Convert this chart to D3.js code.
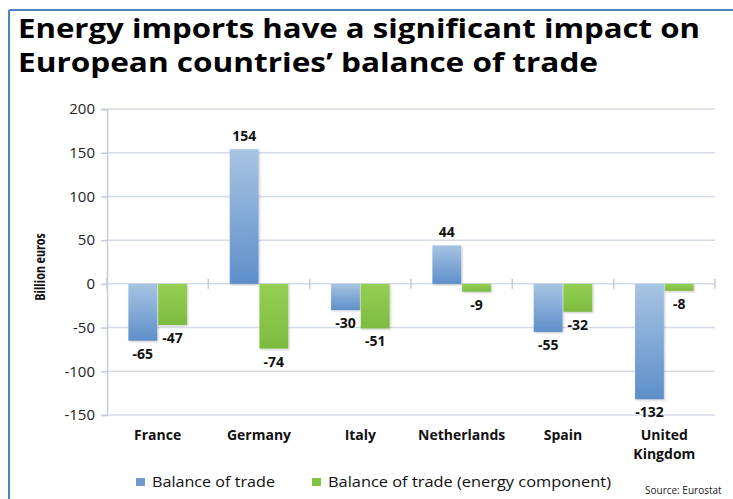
<!DOCTYPE html>
<html>
<head>
<meta charset="utf-8">
<script src="https://cdn.jsdelivr.net/npm/d3@7"></script>
<style>
  html, body { margin: 0; padding: 0; background: #fff; }
  svg { display: block; }
  text { font-family: "Open Sans", "DejaVu Sans", sans-serif; }
</style>
</head>
<body>
<svg id="chart" width="733" height="499"></svg>
<script>
// Trade balance by country, billion euros
const countries = ["France", "Germany", "Italy", "Netherlands", "Spain", "United Kingdom"];
const balanceOfTrade = [-65, 154, -30, 44, -55, -132];
const energyComponent = [-47, -74, -51, -9, -32, -8];
const seriesNames = ["Balance of trade", "Balance of trade (energy component)"];
const yTicks = [200, 150, 100, 50, 0, -50, -100, -150];

const svg = d3.select("#chart");
const W = 733, H = 499;
const plot = { left: 107, right: 715, top: 109, bottom: 415 };

// frame around the slide
svg.append("line").attr("x1", 9).attr("x2", W).attr("y1", 10).attr("y2", 10)
  .attr("stroke", "#4f81bd").attr("stroke-width", 2);
svg.append("line").attr("x1", 9).attr("x2", 9).attr("y1", 10).attr("y2", H)
  .attr("stroke", "#4f81bd").attr("stroke-width", 2);

// title
const titleLines = ["Energy imports have a significant impact on", "European countries\u2019 balance of trade"];
const titleWidths = [682, 580];
titleLines.forEach((t, i) => {
  svg.append("text").attr("x", 18).attr("y", 38 + i * 34)
    .attr("font-size", 27).attr("font-weight", "bold").attr("fill", "#000")
    .attr("textLength", titleWidths[i]).attr("lengthAdjust", "spacingAndGlyphs")
    .text(t);
});

const y = d3.scaleLinear().domain([-150, 200]).range([plot.bottom, plot.top]);
const x0 = d3.scaleBand().domain(countries).range([plot.left, plot.right]).paddingInner(0).paddingOuter(0);
const x1 = d3.scaleBand().domain([0, 1]).range([0, x0.bandwidth()]).paddingInner(0.03).paddingOuter(0.72);

// plain hyphen for negatives
const fmt = d => (d < 0 ? "-" : "") + Math.abs(d);

// gradients
const defs = svg.append("defs");
const gBlue = defs.append("linearGradient").attr("id", "gBlue").attr("x1", 0).attr("x2", 0).attr("y1", 0).attr("y2", 1);
gBlue.append("stop").attr("offset", "0%").attr("stop-color", "#a7c4e2");
gBlue.append("stop").attr("offset", "100%").attr("stop-color", "#5e8fca");
const gGreen = defs.append("linearGradient").attr("id", "gGreen").attr("x1", 0).attr("x2", 0).attr("y1", 0).attr("y2", 1);
gGreen.append("stop").attr("offset", "0%").attr("stop-color", "#93d052");
gGreen.append("stop").attr("offset", "100%").attr("stop-color", "#7dbb41");
const shadow = defs.append("filter").attr("id", "shadow").attr("x", "-20%").attr("y", "-20%").attr("width", "140%").attr("height", "140%");
shadow.append("feDropShadow").attr("dx", 1).attr("dy", 1).attr("stdDeviation", 1.2)
  .attr("flood-color", "#000").attr("flood-opacity", 0.22);

// gridlines
svg.append("g").selectAll("line").data(yTicks).join("line")
  .attr("x1", plot.left).attr("x2", plot.right)
  .attr("y1", d => y(d)).attr("y2", d => y(d))
  .attr("stroke", "#d5dbe8").attr("stroke-width", 1.5);

// y axis
const yAxis = svg.append("g").attr("transform", `translate(${plot.left},0)`)
  .call(d3.axisLeft(y).tickValues(yTicks).tickSize(6).tickPadding(6).tickFormat(fmt));
yAxis.select(".domain").attr("stroke", "#c3cad8").attr("stroke-width", 1.5);
yAxis.selectAll(".tick line").attr("stroke", "#c3cad8").attr("stroke-width", 1.5);
yAxis.selectAll(".tick text").attr("font-size", 15).attr("fill", "#222")
  .attr("font-family", "'Open Sans', sans-serif");

// category axis at zero with boundary ticks
const zeroY = y(0);
svg.append("g").selectAll("line").data(d3.range(countries.length + 1)).join("line")
  .attr("x1", i => plot.left + i * x0.step()).attr("x2", i => plot.left + i * x0.step())
  .attr("y1", zeroY - 5).attr("y2", zeroY + 5)
  .attr("stroke", "#c3cad8").attr("stroke-width", 1.5);

// bars
const rows = countries.map((c, i) => ({ c, vals: [balanceOfTrade[i], energyComponent[i]] }));
const groups = svg.append("g").selectAll("g").data(rows).join("g")
  .attr("transform", d => `translate(${x0(d.c)},0)`);
groups.selectAll("rect").data(d => d.vals.map((v, k) => ({ v, k }))).join("rect")
  .attr("x", d => x1(d.k))
  .attr("width", x1.bandwidth())
  .attr("y", d => Math.min(y(d.v), zeroY))
  .attr("height", d => Math.abs(y(d.v) - zeroY))
  .attr("fill", d => d.k === 0 ? "url(#gBlue)" : "url(#gGreen)")
  .attr("filter", "url(#shadow)");

// value labels
groups.selectAll("text.val").data(d => d.vals.map((v, k) => ({ v, k }))).join("text")
  .attr("class", "val")
  .attr("x", d => x1(d.k) + x1.bandwidth() / 2)
  .attr("y", d => d.v >= 0 ? y(d.v) - 8 : y(d.v) + 18)
  .attr("text-anchor", "middle")
  .attr("font-size", 14).attr("font-weight", "bold").attr("fill", "#111")
  .text(d => fmt(d.v));

// category labels
svg.append("g").selectAll("text").data(countries).join("text")
  .attr("x", d => x0(d) + x0.bandwidth() / 2)
  .attr("y", 440)
  .attr("text-anchor", "middle")
  .attr("font-size", 14).attr("font-weight", "bold").attr("fill", "#111")
  .each(function(d) {
    const words = d === "United Kingdom" ? ["United", "Kingdom"] : [d];
    d3.select(this).selectAll("tspan").data(words).join("tspan")
      .attr("x", x0(d) + x0.bandwidth() / 2)
      .attr("dy", (w, i) => i === 0 ? 0 : 19)
      .text(w => w);
  });

// y axis title
svg.append("text")
  .attr("transform", "translate(45,267) rotate(-90)")
  .attr("text-anchor", "middle")
  .attr("font-size", 14).attr("font-weight", "bold").attr("fill", "#111")
  .attr("font-family", "'Liberation Sans Narrow', 'Arial Narrow', sans-serif")
  .attr("font-stretch", "condensed")
  .text("Billion euros");

// legend
const legendItems = [
  { name: seriesNames[0], fill: "#6f9bd0", x: 136, w: 123 },
  { name: seriesNames[1], fill: "#82c341", x: 312, w: 283 }
];
const lg = svg.append("g").selectAll("g").data(legendItems).join("g")
  .attr("transform", d => `translate(${d.x},478)`);
lg.append("rect").attr("width", 9).attr("height", 8).attr("fill", d => d.fill);
lg.append("text").attr("x", 16).attr("y", 8.5)
  .attr("font-size", 15).attr("fill", "#111")
  .attr("textLength", d => d.w).attr("lengthAdjust", "spacingAndGlyphs")
  .text(d => d.name);

// source note
svg.append("text").attr("x", 645).attr("y", 494)
  .attr("font-size", 10).attr("fill", "#222")
  .text("Source: Eurostat");
</script>
</body>
</html>
